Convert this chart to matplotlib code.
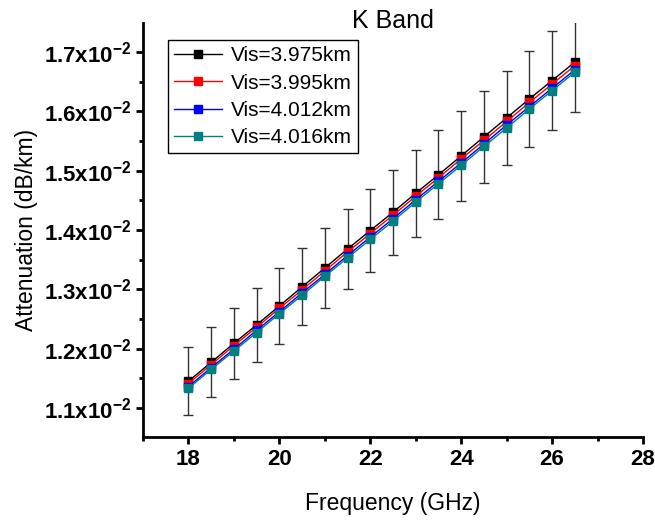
import matplotlib
matplotlib.use("Agg")
import matplotlib.pyplot as plt
from matplotlib.ticker import FixedLocator, FuncFormatter, MultipleLocator

plt.rcParams['font.family'] = ['Liberation Sans', 'DejaVu Sans']
plt.rcParams['mathtext.default'] = 'regular'

freq = [18, 18.5, 19, 19.5, 20, 20.5, 21, 21.5, 22, 22.5, 23, 23.5, 24, 24.5, 25, 25.5, 26, 26.5]
vis_3975 = [1.145, 1.177, 1.209, 1.240, 1.272, 1.304, 1.336, 1.368, 1.399, 1.430, 1.462, 1.493,
            1.525, 1.557, 1.589, 1.621, 1.652, 1.683]
vis_3995 = [1.141, 1.173, 1.205, 1.236, 1.268, 1.299, 1.331, 1.363, 1.394, 1.425, 1.457, 1.488,
            1.520, 1.551, 1.583, 1.615, 1.646, 1.677]
vis_4012 = [1.136, 1.168, 1.199, 1.231, 1.262, 1.294, 1.325, 1.357, 1.388, 1.419, 1.451, 1.482,
            1.513, 1.545, 1.577, 1.608, 1.639, 1.670]
vis_4016 = [1.133, 1.165, 1.196, 1.227, 1.259, 1.290, 1.322, 1.353, 1.384, 1.415, 1.447, 1.478,
            1.509, 1.541, 1.572, 1.604, 1.635, 1.666]
err_3975 = [0.057, 0.059, 0.060, 0.062, 0.064, 0.065, 0.067, 0.068, 0.070, 0.072, 0.073, 0.075,
            0.076, 0.078, 0.079, 0.081, 0.083, 0.084]
labels = ['Vis=3.975km', 'Vis=3.995km', 'Vis=4.012km', 'Vis=4.016km']
colors = ['#000000', '#FF0000', '#0000FF', '#008080']
y_ticks = [1.1, 1.2, 1.3, 1.4, 1.5, 1.6, 1.7]
x_ticks = [18, 20, 22, 24, 26, 28]

fig = plt.figure(figsize=(6.55, 5.2), dpi=100)
ax = fig.add_axes([143/655, 1-437/520, 500/655, 414/520])

scale = 1e-2
series = [vis_3975, vis_3995, vis_4012, vis_4016]
ax.errorbar(freq, [v*scale for v in vis_3975], yerr=[e*scale for e in err_3975], fmt='none',
            ecolor='#333333', elinewidth=1.0, capsize=3.5, capthick=1.0, zorder=1)
for s, lab, c in zip(series, labels, colors):
    ax.plot(freq, [v*scale for v in s], color=c, lw=1.0, marker='s', markersize=6,
            markeredgecolor=c, markerfacecolor=c, label=lab, zorder=2)

ax.set_xlim(17, 28)
ax.set_ylim(1.051e-2, 1.749e-2)
ax.xaxis.set_major_locator(FixedLocator(x_ticks))
ax.xaxis.set_minor_locator(MultipleLocator(1))
ax.yaxis.set_major_locator(FixedLocator([t*scale for t in y_ticks]))
ax.yaxis.set_minor_locator(MultipleLocator(0.0005))
ax.yaxis.set_major_formatter(FuncFormatter(lambda v, p: f"{v/scale:.1f}x10$^{{-2}}$"))

for sp in ['top', 'right']:
    ax.spines[sp].set_visible(False)
for sp in ['left', 'bottom']:
    ax.spines[sp].set_linewidth(2)
ax.tick_params(which='major', direction='out', length=5, width=2, labelsize=16)
ax.tick_params(which='minor', direction='out', length=3, width=2)
for lbl in ax.get_xticklabels() + ax.get_yticklabels():
    lbl.set_fontweight('bold')

ax.set_xlabel('Frequency (GHz)', fontsize=16.5)
ax.set_ylabel('Attenuation (dB/km)', fontsize=16.5)
ax.xaxis.set_label_coords(0.5, -0.132)
ax.yaxis.set_label_coords(-0.209, 0.5)

fig.text(393/655, 1-28/520, 'K Band', ha='center', va='baseline', fontsize=18)

leg = ax.legend(loc='upper left', bbox_to_anchor=(0.05, 0.959), borderaxespad=0,
                fontsize=15, fancybox=False, framealpha=1, edgecolor='black',
                handlelength=2.3, labelspacing=0.4, borderpad=0.3, handletextpad=0.4)
leg.get_frame().set_linewidth(1.0)

fig.savefig('out.png', dpi=100)
